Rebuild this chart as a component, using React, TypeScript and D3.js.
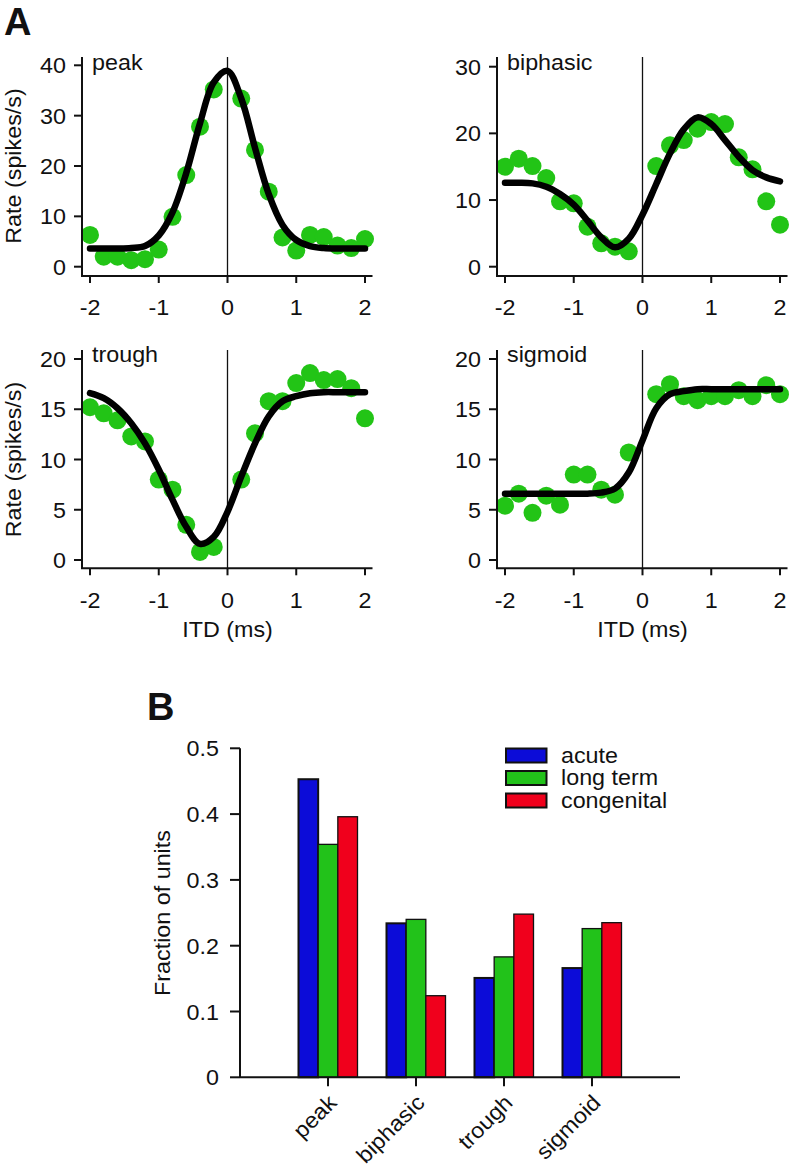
import * as d3 from 'd3';

// ITD sample points (ms)
const ITD = [-2, -1.8, -1.6, -1.4, -1.2, -1, -0.8, -0.6, -0.4, -0.2, 0, 0.2, 0.4, 0.6, 0.8, 1, 1.2, 1.4, 1.6, 1.8, 2];

// measured rates (spikes/s), null where no point is shown
const peakRate = [6.3, 2.0, 2.0, 1.3, 1.5, 3.4, 9.9, 18.2, 27.8, 35.2, null, 33.4, 23.2, 14.9, 5.8, 3.2, 6.3, 5.9, 4.2, 3.7, 5.5];
const biphasicRate = [15, 16.2, 15.1, 13.3, 9.8, 9.5, 6, 3.5, 3, 2.3, null, 15.1, 18.2, 19, 20.7, 21.7, 21.4, 16.4, 14.6, 9.8, 6.3];
const troughRate = [15.2, 14.6, 13.9, 12.3, 11.8, 8.0, 7.0, 3.5, 0.8, 1.3, null, 8.0, 12.6, 15.8, 15.8, 17.6, 18.6, 17.9, 18.0, 17.1, 14.1];
const sigmoidRate = [5.4, 6.6, 4.7, 6.4, 5.5, 8.5, 8.5, 7.0, 6.5, 10.7, null, 16.5, 17.5, 16.3, 15.9, 16.3, 16.3, 16.9, 16.3, 17.4, 16.5];

// fitted curves at the same ITDs
const peakFit = [3.6, 3.6, 3.6, 3.7, 4.1, 6.2, 10.8, 18.6, 28.5, 36.6, 38.9, 33.4, 23.6, 14.4, 8.3, 5.3, 4.1, 3.7, 3.6, 3.6, 3.6];
const biphasicFit = [12.6, 12.6, 12.5, 12.0, 10.9, 9.3, 6.9, 4.4, 2.9, 4.2, 7.8, 12.4, 17.0, 20.6, 22.4, 21.4, 19.0, 16.5, 14.5, 13.4, 12.8];
const troughFit = [16.6, 16.1, 15.1, 13.6, 11.6, 9.0, 6.0, 3.3, 1.6, 2.3, 4.8, 8.3, 11.6, 14.3, 15.8, 16.3, 16.6, 16.7, 16.7, 16.7, 16.7];
const sigmoidFit = [6.6, 6.6, 6.6, 6.6, 6.6, 6.6, 6.6, 6.7, 7.1, 8.7, 11.9, 15.1, 16.5, 16.8, 17.0, 17.0, 17.0, 17.0, 17.0, 17.0, 17.0];

const xTicks = [-2, -1, 0, 1, 2];

// panel B
const SHAPES = ['peak', 'biphasic', 'trough', 'sigmoid'];
const SERIES = ['acute', 'long term', 'congenital'];
const acute = [0.453, 0.234, 0.151, 0.166];
const longTerm = [0.354, 0.24, 0.183, 0.226];
const congenital = [0.396, 0.124, 0.248, 0.235];
const fracTicks = [0, 0.1, 0.2, 0.3, 0.4, 0.5];

const BAR_COLORS = ['#0c0cd8', '#22c21a', '#f0001c'];
const DOT = '#22c416';
const FONT = '"Liberation Sans", Arial, Helvetica, sans-serif';

function Label({ x, y, rotate = 0, anchor = 'start', size = 22, weight = 'normal', stretch = 1.06, children }: any) {
  return (
    <text
      transform={`translate(${x},${y}) rotate(${rotate}) scale(${stretch},1)`}
      textAnchor={anchor}
      fontSize={size}
      fontWeight={weight}
      fontFamily={FONT}
      fill="#111"
    >
      {children}
    </text>
  );
}

function TuningPanel({ name, rate, fit, yMax, yTicks, ox, yRange, axisY, top, nameY, tickLabelY, ylabel, xlabelY }: any) {
  const x = d3.scaleLinear().domain([-2, 2]).range([90 + ox, 365 + ox]);
  const y = d3.scaleLinear().domain([0, yMax]).range(yRange);
  const axisX = 82 + ox;
  const right = 372.5 + ox;

  const line = d3
    .line<number>()
    .x((_, i) => x(ITD[i]))
    .y((d) => y(d))
    .curve(d3.curveCatmullRom.alpha(0.5));

  return (
    <g>
      <line x1={x(0)} x2={x(0)} y1={top} y2={axisY} stroke="#111" strokeWidth={1.3} />
      {rate.map((v: number | null, i: number) =>
        v == null ? null : <circle key={i} cx={x(ITD[i])} cy={y(v)} r={9} fill={DOT} />
      )}
      <path d={line(fit) ?? ''} fill="none" stroke="#000" strokeWidth={6.5} strokeLinecap="round" />

      <line x1={axisX} x2={axisX} y1={top} y2={axisY} stroke="#111" strokeWidth={2} />
      <line x1={axisX - 1} x2={right} y1={axisY} y2={axisY} stroke="#111" strokeWidth={2} />
      {yTicks.map((t: number) => (
        <g key={t}>
          <line x1={axisX - 8} x2={axisX} y1={y(t)} y2={y(t)} stroke="#111" strokeWidth={2} />
          <Label x={axisX - 16} y={y(t) + 8} anchor="end">{t}</Label>
        </g>
      ))}
      {xTicks.map((t) => (
        <g key={t}>
          <line x1={x(t)} x2={x(t)} y1={axisY} y2={axisY + 7} stroke="#111" strokeWidth={2} />
          <Label x={x(t)} y={tickLabelY} anchor="middle">{t}</Label>
        </g>
      ))}
      <Label x={axisX + 10} y={nameY}>{name}</Label>
      {ylabel && (
        <Label x={20.5} y={(yRange[0] + yRange[1]) / 2} rotate={-90} anchor="middle">Rate (spikes/s)</Label>
      )}
      {xlabelY && <Label x={x(0)} y={xlabelY} anchor="middle">ITD (ms)</Label>}
    </g>
  );
}

function BarPanel() {
  const x = d3.scalePoint<string>().domain(SHAPES).range([240, 680]).padding(1);
  const inner = d3.scaleBand<string>().domain(SERIES).range([-29.5, 29.5]);
  const y = d3.scaleLinear().domain([0, 0.5]).range([1077.3, 748.3]);
  const values = [acute, longTerm, congenital];

  return (
    <g>
      {SHAPES.map((s, i) => (
        <g key={s}>
          {SERIES.map((ser, j) => (
            <rect
              key={ser}
              x={(x(s) ?? 0) + (inner(ser) ?? 0)}
              y={y(values[j][i])}
              width={inner.bandwidth()}
              height={y(0) - y(values[j][i])}
              fill={BAR_COLORS[j]}
              stroke="#111"
              strokeWidth={j === 0 ? 2 : 1.3}
            />
          ))}
        </g>
      ))}
      <line x1={240} x2={240} y1={y(0.5)} y2={y(0)} stroke="#111" strokeWidth={2} />
      <line x1={240} x2={680} y1={y(0)} y2={y(0)} stroke="#111" strokeWidth={2} />
      {fracTicks.map((t) => (
        <g key={t}>
          <line x1={230} x2={240} y1={y(t)} y2={y(t)} stroke="#111" strokeWidth={2} />
          <Label x={219} y={y(t) + 8} anchor="end">{t}</Label>
        </g>
      ))}
      {SHAPES.map((s) => (
        <g key={s}>
          <line x1={x(s)} x2={x(s)} y1={y(0)} y2={y(0) + 9} stroke="#111" strokeWidth={2} />
          <Label x={(x(s) ?? 0) + 10} y={1104} rotate={-45} anchor="end">{s}</Label>
        </g>
      ))}
      <Label x={170} y={913} rotate={-90} anchor="middle">Fraction of units</Label>

      {SERIES.map((ser, j) => (
        <g key={ser} transform={`translate(506,${748.5 + j * 22.5})`}>
          <rect width={40.5} height={14} fill={BAR_COLORS[j]} stroke="#111" strokeWidth={2} />
          <Label x={55} y={14}>{ser}</Label>
        </g>
      ))}
    </g>
  );
}

export default function App() {
  return (
    <svg
      width={793}
      height={1175}
      viewBox="0 0 793 1175"
      style={{ position: 'absolute', left: 0, top: 0, background: '#fff' }}
    >
      <Label x={4} y={35} size={38} weight="bold" stretch={1}>A</Label>
      <TuningPanel
        name="peak" rate={peakRate} fit={peakFit} yMax={40} yTicks={[0, 10, 20, 30, 40]}
        ox={0} yRange={[266.7, 65.3]} axisY={276} top={57} nameY={70} tickLabelY={315} ylabel
      />
      <TuningPanel
        name="biphasic" rate={biphasicRate} fit={biphasicFit} yMax={30} yTicks={[0, 10, 20, 30]}
        ox={415} yRange={[266.7, 66.7]} axisY={276} top={57} nameY={70} tickLabelY={315}
      />
      <TuningPanel
        name="trough" rate={troughRate} fit={troughFit} yMax={20} yTicks={[0, 5, 10, 15, 20]}
        ox={0} yRange={[560, 359]} axisY={568.3} top={350} nameY={361.5} tickLabelY={607.5} ylabel xlabelY={636.7}
      />
      <TuningPanel
        name="sigmoid" rate={sigmoidRate} fit={sigmoidFit} yMax={20} yTicks={[0, 5, 10, 15, 20]}
        ox={415} yRange={[560, 359]} axisY={568.3} top={350} nameY={361.5} tickLabelY={607.5} xlabelY={636.7}
      />
      <Label x={147} y={720} size={38} weight="bold" stretch={1}>B</Label>
      <BarPanel />
    </svg>
  );
}
